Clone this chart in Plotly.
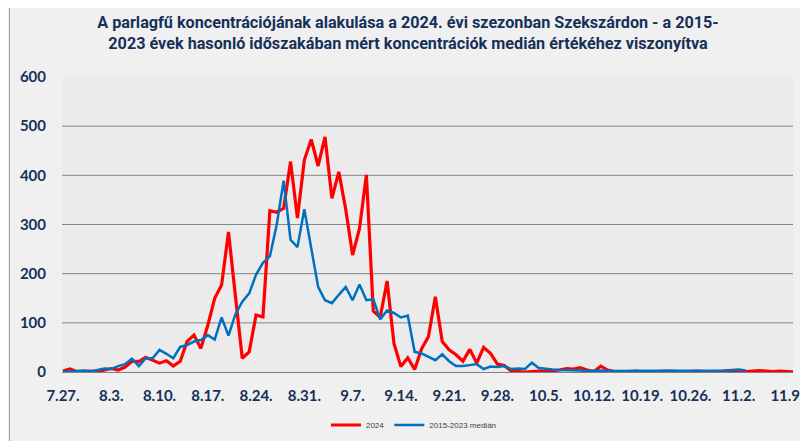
import plotly.graph_objects as go
import pandas as pd

start_date = "2024-07-27"

# daily pollen concentration, 2024 season (from 7.27.)
series_2024 = [
    2, 6, 1, 2, 2, 1, 4, 7, 4, 10,
    22, 21, 30, 24, 18, 23, 12, 22, 62, 75,
    48, 95, 150, 177, 285, 155, 28, 41, 116, 112,
    328, 325, 333, 428, 313, 431, 473, 419, 478, 353,
    407, 331, 238, 292, 401, 124, 111, 185, 58, 11,
    29, 5, 47, 72, 153, 62, 45, 35, 22, 46,
    18, 50, 38, 16, 13, 2, 1, 0, 1, 2,
    1, 2, 4, 7, 6, 9, 4, 1, 12, 4,
    1, 0, 1, 2, 1, 0, 1, 2, 2, 1,
    0, 1, 2, 1, 0, 1, 2, 1, 0, 1,
    2, 3, 2, 1, 2, 1, 0,
]

# 2015-2023 median for the same days
series_median = [
    0, 1, 2, 3, 1, 4, 7, 6, 12, 16,
    27, 12, 28, 28, 45, 37, 28, 51, 55, 62,
    65, 75, 66, 111, 74, 117, 143, 160, 198, 222,
    235, 300, 389, 269, 254, 331, 251, 173, 146, 140,
    157, 173, 146, 178, 146, 148, 107, 125, 120, 111,
    115, 41, 38, 31, 24, 36, 22, 12, 12, 14,
    16, 6, 11, 10, 12, 6, 7, 6, 19, 8,
    6, 5, 4, 4, 3, 3, 2, 3, 3, 2,
    2, 3, 2, 2, 3, 2, 2, 3, 2, 2,
    3, 2, 2, 3, 2, 3, 3, 4, 5, 3,
]

tick_labels = ["7.27.", "8.3.", "8.10.", "8.17.", "8.24.", "8.31.", "9.7.", "9.14.",
               "9.21.", "9.28.", "10.5.", "10.12.", "10.19.", "10.26.", "11.2.", "11.9."]
y_ticks = [0, 100, 200, 300, 400, 500, 600]

names = ["2024", "2015-2023 medián"]

dates_2024 = pd.date_range(start_date, periods=len(series_2024), freq="D")
dates_median = pd.date_range(start_date, periods=len(series_median), freq="D")
tick_dates = pd.date_range(start_date, periods=len(tick_labels), freq="7D")

navy = "#16305a"
tick_font = dict(family="Lato, Open Sans, sans-serif", size=15, color=navy, weight="bold")

fig = go.Figure()
fig.add_trace(go.Scatter(x=dates_2024, y=series_2024, mode="lines", name=names[0],
                         line=dict(color="#ff0000", width=3.2)))
fig.add_trace(go.Scatter(x=dates_median, y=series_median, mode="lines", name=names[1],
                         line=dict(color="#0070c0", width=2.5)))

t0 = pd.Timestamp(start_date)
x_range = [t0 - pd.Timedelta(days=0.145), t0 + pd.Timedelta(days=105.87)]

W, H = 800, 433
L, R, T, B = 54, 15, 69, 69
pw, ph = W - L - R, H - T - B

shapes = []
for v in y_ticks[1:-1]:
    shapes.append(dict(type="line", xref="paper", yref="y", x0=0, x1=1, y0=v, y1=v,
                       line=dict(color="#868686", width=1), layer="below"))
# frame left border
shapes.append(dict(type="line", xref="paper", yref="paper", x0=(1.5 - L) / pw,
                   x1=(1.5 - L) / pw, y0=-1, y1=2,
                   line=dict(color="#a0a0a0", width=1)))

fig.update_layout(
    width=W, height=H, autosize=False,
    margin=dict(l=L, r=R, t=T, b=B, autoexpand=False),
    paper_bgcolor="#f0f0f0",
    plot_bgcolor="#ebebeb",
    title=dict(
        text="<b>A parlagfű koncentrációjának alakulása a 2024. évi szezonban Szekszárdon - a 2015-<br>"
             "2023 évek hasonló időszakában mért koncentrációk medián értékéhez viszonyítva</b>",
        x=0.5, xref="container", xanchor="center",
        y=1 - 20 / H, yref="container", yanchor="middle",
        font=dict(family="Roboto, sans-serif", size=16.2, color=navy),
    ),
    xaxis=dict(type="date", range=x_range, tickvals=tick_dates, ticktext=tick_labels,
               showgrid=False, zeroline=False, showline=True, linecolor="#808080",
               linewidth=1, ticks="", tickfont=tick_font, ticklabelstandoff=10,
               automargin=False, fixedrange=True),
    yaxis=dict(range=[0, 600], tickvals=y_ticks, showgrid=False, zeroline=False,
               showline=False, ticks="", tickfont=tick_font, ticklabelstandoff=15,
               automargin=False),
    legend=dict(orientation="h", x=0.4815, xanchor="center",
                y=-53 / ph, yanchor="middle",
                font=dict(family="Liberation Sans, Arial, sans-serif", size=8, color="#404040"),
                bgcolor="rgba(0,0,0,0)"),
    shapes=shapes,
    showlegend=True,
)

fig.write_html("out.html")
